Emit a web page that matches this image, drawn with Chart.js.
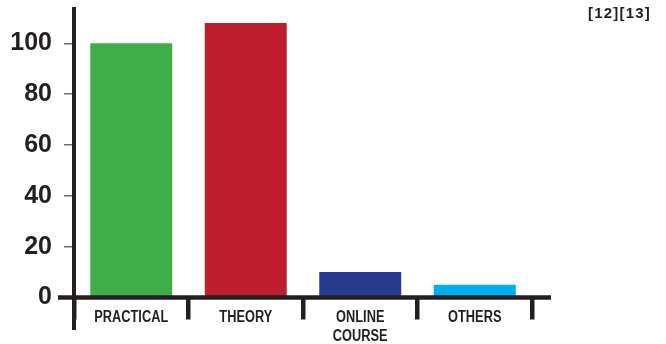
<!DOCTYPE html>
<html>
<head>
<meta charset="utf-8">
<script src="https://cdn.jsdelivr.net/npm/chart.js@4.4.1/dist/chart.umd.min.js"></script>
<style>
html,body{margin:0;padding:0;background:#fff;}
#wrap{position:relative;width:666px;height:344px;}
</style>
</head>
<body>
<div id="wrap"><canvas id="c" width="666" height="344"></canvas></div>
<script>
const categories = ['PRACTICAL', 'THEORY', ['ONLINE', 'COURSE'], 'OTHERS'];
const values = [100, 108, 10, 5];
const barColors = ['#3fae49', '#be1e2d', '#283a8f', '#00aeef'];
const yTicks = [0, 20, 40, 60, 80, 100];
const refText = '[12][13]';

const INK = '#231f20';
const CONDENSE = 0.8;

const decor = {
  id: 'decor',
  afterDatasetsDraw(chart) {
    const ctx = chart.ctx;
    const a = chart.chartArea;
    ctx.save();
    ctx.strokeStyle = INK;
    ctx.lineCap = 'butt';
    // y axis
    ctx.lineWidth = 4;
    ctx.beginPath();
    ctx.moveTo(a.left, 7);
    ctx.lineTo(a.left, 330);
    ctx.stroke();
    // x axis
    ctx.lineWidth = 4.5;
    ctx.beginPath();
    ctx.moveTo(58, a.bottom);
    ctx.lineTo(551, a.bottom);
    ctx.stroke();
    ctx.restore();

    // category labels (condensed look), placed from the category scale
    const xs = chart.scales.x;
    ctx.save();
    ctx.fillStyle = INK;
    ctx.font = 'bold 16px "Liberation Sans", Arial, sans-serif';
    ctx.textAlign = 'center';
    ctx.textBaseline = 'middle';
    ctx.scale(CONDENSE, 1);
    categories.forEach((lab, i) => {
      const px = xs.getPixelForTick(i);
      const lines = Array.isArray(lab) ? lab : [lab];
      lines.forEach((ln, j) => {
        ctx.fillText(ln, px / CONDENSE, 318 + j * 18.5);
      });
    });
    ctx.restore();

    // reference text
    ctx.save();
    ctx.fillStyle = INK;
    ctx.font = 'bold 15px "Liberation Sans", Arial, sans-serif';
    try { ctx.letterSpacing = '1.2px'; } catch (e) {}
    ctx.textAlign = 'right';
    ctx.textBaseline = 'middle';
    ctx.fillText(refText, 651, 14);
    ctx.restore();
  }
};

new Chart(document.getElementById('c'), {
  type: 'bar',
  data: {
    labels: categories,
    datasets: [{
      data: values,
      backgroundColor: barColors,
      borderWidth: 0,
      categoryPercentage: 1,
      barPercentage: 0.716
    }]
  },
  options: {
    responsive: false,
    animation: false,
    devicePixelRatio: 1,
    layout: { padding: { top: 7, right: 134, left: 0, bottom: 0 } },
    plugins: { legend: { display: false }, tooltip: { enabled: false } },
    scales: {
      x: {
        offset: true,
        afterFit(s) { s.height = 46.5; s.paddingLeft = 0; s.paddingRight = 0; },
        border: { display: false },
        grid: {
          offset: true,
          drawOnChartArea: false,
          drawTicks: true,
          tickLength: 22,
          lineWidth: 4.5,
          color: INK
        },
        ticks: { display: false, autoSkip: false }
      },
      y: {
        min: 0,
        max: 114.3,
        afterFit(s) { s.width = 74; s.paddingTop = 0; s.paddingBottom = 0; },
        afterBuildTicks(s) { s.ticks = yTicks.map(v => ({ value: v })); },
        border: { display: false },
        grid: {
          drawOnChartArea: false,
          drawTicks: true,
          tickLength: 10,
          lineWidth: 1.5,
          color: '#6d6e71'
        },
        ticks: {
          padding: 12,
          color: INK,
          font: { family: '"Liberation Sans", Arial, sans-serif', size: 25, weight: 'bold' }
        }
      }
    }
  },
  plugins: [decor]
});
</script>
</body>
</html>
